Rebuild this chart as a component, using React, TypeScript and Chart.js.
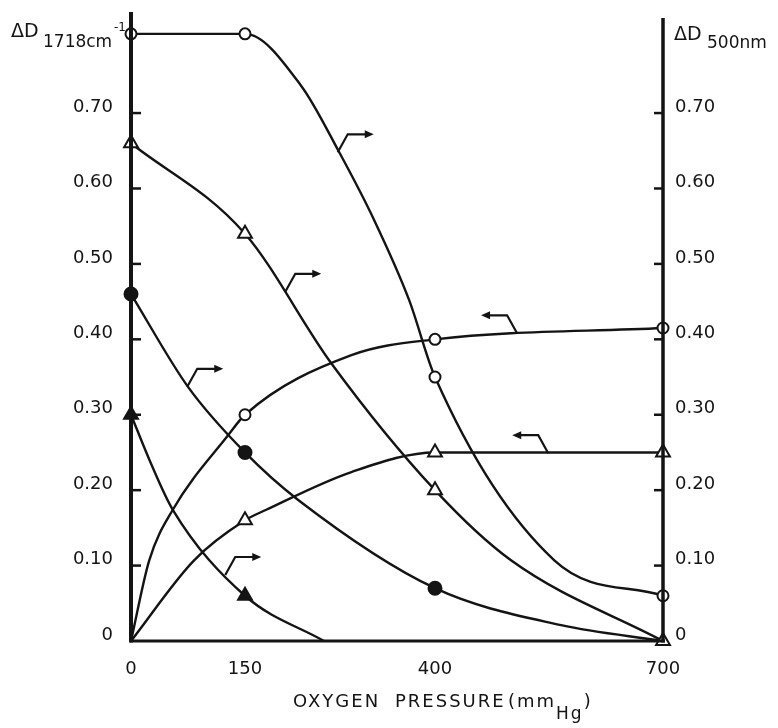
import React, { useEffect, useRef } from "react";
import { Chart, registerables } from "chart.js";

Chart.register(...registerables);

// ---------- data ----------
const pressureTicks = [0, 150, 400, 700];
const valueTicks = [0, 0.1, 0.2, 0.3, 0.4, 0.5, 0.6, 0.7];

const measuredPressure = [0, 150, 400, 700];

// right axis (ΔD 500 nm)
const openCircle500 = [0.805, 0.805, 0.35, 0.06];
const openCircle500TraceP = [224, 274, 320, 366, 557];
const openCircle500TraceV = [0.736, 0.648, 0.558, 0.452, 0.107];

const openTriangle500 = [0.66, 0.54, 0.2, 0];
const openTriangle500TraceP = [263, 500];
const openTriangle500TraceV = [0.369, 0.107];

const filledCircle500P = [0, 150, 400];
const filledCircle500 = [0.46, 0.25, 0.07];
const filledCircle500TraceP = [75, 220, 566, 700];
const filledCircle500TraceV = [0.337, 0.187, 0.021, 0];

const filledTriangle500P = [0, 150];
const filledTriangle500 = [0.3, 0.06];
const filledTriangle500TraceP = [26, 55, 254];
const filledTriangle500TraceV = [0.236, 0.174, 0];

// left axis (ΔD 1718 cm-1)
const openCircle1718P = [150, 400, 700];
const openCircle1718 = [0.3, 0.4, 0.415];
const openCircle1718TraceP = [0, 24, 55, 128, 290];
const openCircle1718TraceV = [0, 0.107, 0.174, 0.273, 0.379];

const openTriangle1718P = [150, 400, 700];
const openTriangle1718 = [0.16, 0.25, 0.25];
const openTriangle1718TraceP = [0, 83, 178, 290];
const openTriangle1718TraceV = [0, 0.107, 0.174, 0.224];

// bent arrows telling which axis a curve belongs to (anchor on curve)
const arrowPressure = [272, 203, 74, 124, 508, 549];
const arrowValue = [0.648, 0.463, 0.337, 0.0875, 0.408, 0.249];
const arrowDirection = [1, 1, 1, 1, -1, -1];

const ink = "#141414";
const FONT = '"DejaVu Sans"';

type P = { x: number; y: number; m: boolean };

function buildSeries(mp: number[], mv: number[], tp: number[], tv: number[]): P[] {
  const pts: P[] = [
    ...mp.map((x, i) => ({ x, y: mv[i], m: true })),
    ...tp.map((x, i) => ({ x, y: tv[i], m: false })),
  ];
  return pts.sort((a, b) => a.x - b.x);
}

function dataset(points: P[], axis: string, style: string, filled: boolean, r: number) {
  return {
    data: points,
    yAxisID: axis,
    borderColor: ink,
    borderWidth: 2.4,
    cubicInterpolationMode: "monotone" as const,
    pointStyle: style,
    pointRadius: (c: any) => (c.raw && c.raw.m ? r : 0),
    pointHoverRadius: (c: any) => (c.raw && c.raw.m ? r : 0),
    pointBackgroundColor: filled ? ink : "#ffffff",
    pointBorderColor: ink,
    pointBorderWidth: 2,
    clip: false as const,
    fill: false,
  };
}

const overlayPlugin = {
  id: "overlay",
  afterDatasetsDraw(chart: any) {
    const ctx: CanvasRenderingContext2D = chart.ctx;
    const { left, right, top, bottom } = chart.chartArea;
    const xs = chart.scales.x;
    const yl = chart.scales.y;
    const yr = chart.scales.y2;
    const seg = (x1: number, y1: number, x2: number, y2: number) => {
      ctx.beginPath();
      ctx.moveTo(x1, y1);
      ctx.lineTo(x2, y2);
      ctx.stroke();
    };
    ctx.save();
    ctx.strokeStyle = ink;
    ctx.fillStyle = ink;
    ctx.lineCap = "butt";
    // axes
    ctx.lineWidth = 4;
    seg(left, top, left, bottom + 1.5);
    ctx.lineWidth = 3.5;
    seg(right, top + 6, right, bottom + 1.5);
    ctx.lineWidth = 3;
    seg(left - 1, bottom, right + 2, bottom);
    // inward ticks
    ctx.lineWidth = 2.5;
    valueTicks.forEach((v) => {
      if (v === 0) return;
      const p1 = yl.getPixelForValue(v);
      seg(left, p1, left + 10, p1);
      const p2 = yr.getPixelForValue(v);
      seg(right, p2, right - 9, p2);
    });
    // arrows
    ctx.lineWidth = 2.2;
    ctx.lineJoin = "miter";
    arrowPressure.forEach((p, i) => {
      const d = arrowDirection[i];
      const ax = xs.getPixelForValue(p);
      const ay = (d > 0 ? yr : yl).getPixelForValue(arrowValue[i]);
      const sx = ax + d * 10;
      const sy = ay - 18;
      const ex = sx + d * 26;
      ctx.beginPath();
      ctx.moveTo(ax, ay);
      ctx.lineTo(sx, sy);
      ctx.lineTo(ex - d * 6, sy);
      ctx.stroke();
      ctx.beginPath();
      ctx.moveTo(ex, sy);
      ctx.lineTo(ex - d * 9, sy - 4);
      ctx.lineTo(ex - d * 9, sy + 4);
      ctx.closePath();
      ctx.fill();
    });
    // axis titles
    ctx.textAlign = "left";
    ctx.textBaseline = "alphabetic";
    (ctx as any).letterSpacing = "0px";
    ctx.font = `19px ${FONT}`;
    ctx.fillText("ΔD", 11, 37);
    ctx.font = `17px ${FONT}`;
    ctx.fillText("1718cm", 43, 47);
    ctx.font = `12px ${FONT}`;
    ctx.fillText("-1", 114, 31);

    ctx.font = `19px ${FONT}`;
    ctx.fillText("ΔD", 674, 40);
    ctx.font = `17px ${FONT}`;
    ctx.fillText("500nm", 707, 48);

    (ctx as any).letterSpacing = "2px";
    ctx.font = `18px ${FONT}`;
    ctx.fillText("OXYGEN", 293, 707);
    ctx.fillText("PRESSURE", 395, 707);
    ctx.fillText("(mm", 508, 707);
    let cx = 508 + ctx.measureText("(mm").width;
    ctx.font = `17px ${FONT}`;
    ctx.fillText("Hg", cx, 719);
    cx += ctx.measureText("Hg").width;
    ctx.font = `18px ${FONT}`;
    ctx.fillText(")", cx, 707);
    (ctx as any).letterSpacing = "0px";
    ctx.restore();
  },
};

const fmt = (v: number) => (v === 0 ? "0" : v.toFixed(2));

export default function App() {
  const ref = useRef<HTMLCanvasElement | null>(null);

  useEffect(() => {
    if (!ref.current) return;
    const datasets = [
      dataset(buildSeries(measuredPressure, openCircle500, openCircle500TraceP, openCircle500TraceV), "y2", "circle", false, 5.5),
      dataset(buildSeries(measuredPressure, openTriangle500, openTriangle500TraceP, openTriangle500TraceV), "y2", "triangle", false, 8),
      dataset(buildSeries(filledCircle500P, filledCircle500, filledCircle500TraceP, filledCircle500TraceV), "y2", "circle", true, 6.5),
      dataset(buildSeries(filledTriangle500P, filledTriangle500, filledTriangle500TraceP, filledTriangle500TraceV), "y2", "triangle", true, 8),
      dataset(buildSeries(openCircle1718P, openCircle1718, openCircle1718TraceP, openCircle1718TraceV), "y", "circle", false, 5.5),
      dataset(buildSeries(openTriangle1718P, openTriangle1718, openTriangle1718TraceP, openTriangle1718TraceV), "y", "triangle", false, 8),
    ];
    const tickFont = { family: "DejaVu Sans", size: 18 };
    const yScale = (pos: "left" | "right", width: number, padding: number) => ({
      type: "linear" as const,
      position: pos,
      min: 0,
      max: 0.834,
      bounds: "data" as const,
      grid: { display: false, drawTicks: false },
      border: { display: false },
      afterBuildTicks: (s: any) => {
        s.ticks = valueTicks.map((v) => ({ value: v }));
      },
      afterFit: (s: any) => {
        s.width = width;
        s.paddingTop = 0;
        s.paddingBottom = 0;
      },
      ticks: {
        autoSkip: false,
        padding,
        labelOffset: -6,
        color: ink,
        font: tickFont,
        callback: (v: any) => fmt(Number(v)),
      },
    });
    const chart = new Chart(ref.current, {
      type: "line",
      data: { datasets: datasets as any },
      options: {
        responsive: false,
        animation: false,
        events: [],
        layout: { padding: { top: 12, left: 0, right: 0, bottom: 0 } },
        plugins: { legend: { display: false }, tooltip: { enabled: false }, title: { display: false } },
        scales: {
          x: {
            type: "linear",
            min: 0,
            max: 700,
            bounds: "data",
            grid: { display: false, drawTicks: false },
            border: { display: false },
            afterBuildTicks: (s: any) => {
              s.ticks = pressureTicks.map((v) => ({ value: v }));
            },
            afterFit: (s: any) => {
              s.height = 87;
              s.paddingLeft = 0;
              s.paddingRight = 0;
            },
            ticks: {
              autoSkip: false,
              maxRotation: 0,
              padding: 18,
              color: ink,
              font: tickFont,
              callback: (v: any) => String(v),
            },
          },
          y: yScale("left", 131, 18) as any,
          y2: yScale("right", 115, 12) as any,
        },
      },
      plugins: [overlayPlugin],
    });
    return () => chart.destroy();
  }, []);

  return (
    <div style={{ position: "fixed", left: 0, top: 0, width: 778, height: 728, background: "#fff" }}>
      <canvas ref={ref} width={778} height={728} style={{ display: "block" }} />
    </div>
  );
}
